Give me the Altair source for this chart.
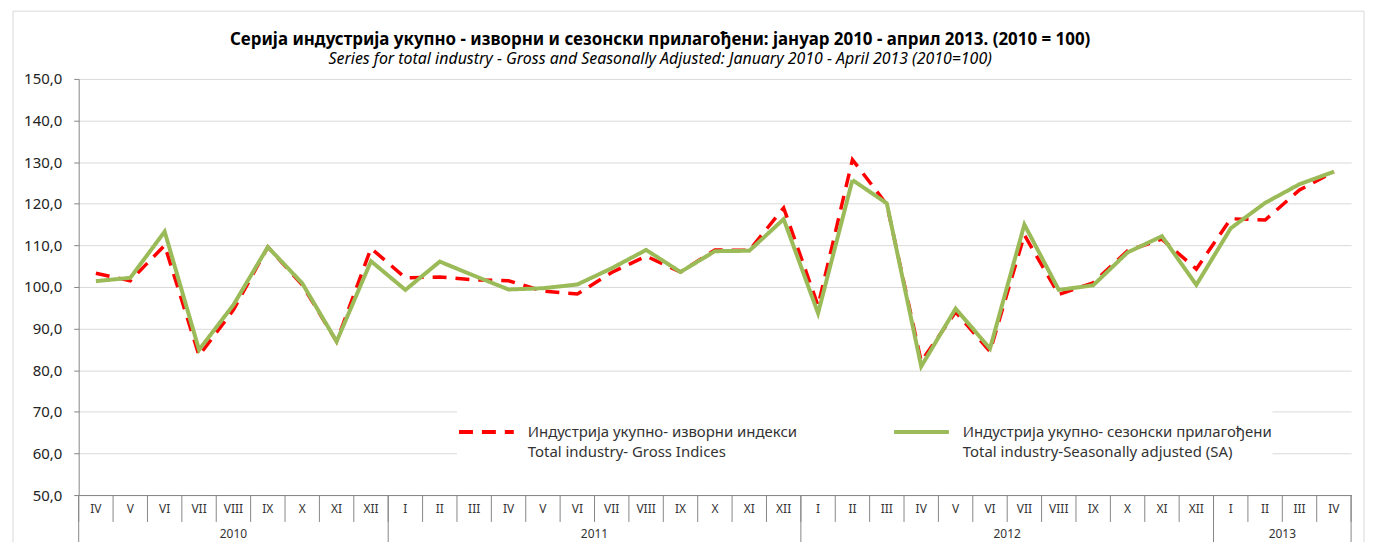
import altair as alt
import pandas as pd

months = ["IV", "V", "VI", "VII", "VIII", "IX", "X", "XI", "XII",
          "I", "II", "III", "IV", "V", "VI", "VII", "VIII", "IX", "X", "XI", "XII",
          "I", "II", "III", "IV", "V", "VI", "VII", "VIII", "IX", "X", "XI", "XII",
          "I", "II", "III", "IV"]
years = ["2010"] * 9 + ["2011"] * 12 + ["2012"] * 12 + ["2013"] * 4

gross = [103.3, 101.5, 110.0, 83.5, 94.5, 109.6, 100.5, 86.9, 109.3,
         102.2, 102.4, 101.7, 101.5, 99.0, 98.3, 103.5, 107.4, 103.6, 108.9, 108.8, 119.0,
         95.5, 130.6, 119.8, 82.1, 94.0, 84.5, 112.5, 98.2, 101.0, 108.7, 111.5, 104.3,
         116.4, 116.1, 123.3, 127.7]
sa = [101.4, 102.2, 113.3, 84.9, 95.7, 109.6, 100.9, 86.9, 106.2,
      99.3, 106.1, 102.7, 99.4, 99.7, 100.6, 104.5, 108.9, 103.6, 108.6, 108.7, 116.3,
      93.7, 125.7, 120.1, 80.9, 94.8, 85.2, 115.0, 99.3, 100.4, 108.3, 112.2, 100.5,
      114.1, 120.2, 124.7, 127.7]

series_names = ["Индустрија укупно- изворни индекси|Total industry- Gross Indices",
                "Индустрија укупно- сезонски прилагођени|Total industry-Seasonally adjusted (SA)"]
series_colors = ["#ff0000", "#9bbb59"]

title_sr = "Серија индустрија укупно - изворни и сезонски прилагођени: јануар 2010 - април 2013. (2010 = 100)"
title_en = "Series for total industry - Gross and Seasonally Adjusted: January 2010 - April 2013 (2010=100)"

W, H = 1278, 418
FONT = "Noto Sans"

n = len(months)
rows = []
for i in range(n):
    rows.append({"idx": i, "value": gross[i], "series": series_names[0]})
    rows.append({"idx": i, "value": sa[i], "series": series_names[1]})
df = pd.DataFrame(rows)

cat = pd.DataFrame({"idx": list(range(n)), "month": months, "year": years})

# separators between month cells and between year groups
bounds = [i - 0.5 for i in range(n)] + [n - 0.5]
is_year = [True] + [years[i] != years[i - 1] for i in range(1, n)] + [True]
sep = pd.DataFrame({"b": bounds, "kind": ["year" if y else "month" for y in is_year]})

xscale = alt.Scale(domain=[-0.5, n - 0.5], nice=False, zero=False)
color_scale = alt.Scale(domain=series_names, range=series_colors)
dash_scale = alt.Scale(domain=series_names, range=[[14, 9], [1, 0]])

legend = alt.Legend(
    title=None, orient="none", legendX=380, legendY=325, direction="horizontal",
    columns=2, symbolType="stroke", symbolSize=3025, symbolStrokeWidth=4,
    labelExpr="split(datum.label, '|')", labelFontSize=15, labelFont=FONT,
    labelColor="#333333", labelLimit=700, labelOffset=12, columnPadding=89,
    fillColor="white", padding=0,
)

base = alt.Chart(df).encode(
    x=alt.X("idx:Q", scale=xscale,
            axis=alt.Axis(labels=False, ticks=False, grid=False, domainColor="#868686", title=None)),
    y=alt.Y("value:Q", scale=alt.Scale(domain=[50, 150], nice=False),
            axis=alt.Axis(values=list(range(50, 151, 10)),
                          labelExpr="replace(format(datum.value, '.1f'), '.', ',')",
                          tickSize=5, tickColor="#868686", domainColor="#868686",
                          gridColor="#d9d9d9", labelFontSize=15, labelFont=FONT,
                          labelColor="#222222", labelPadding=12, title=None)),
    color=alt.Color("series:N", scale=color_scale, legend=legend),
    strokeDash=alt.StrokeDash("series:N", scale=dash_scale, legend=legend),
)

red = base.transform_filter(alt.datum.series == series_names[0]).mark_line(strokeWidth=3.5)
green = base.transform_filter(alt.datum.series == series_names[1]).mark_line(strokeWidth=4)

month_text = alt.Chart(cat).mark_text(fontSize=12, font=FONT, color="#333333").encode(
    x=alt.X("idx:Q", scale=xscale), y=alt.value(H + 14), text="month:N")

year_text = alt.Chart(cat).transform_aggregate(
    center="mean(idx)", groupby=["year"]
).mark_text(fontSize=12, font=FONT, color="#333333").encode(
    x=alt.X("center:Q", scale=xscale), y=alt.value(H + 39), text="year:N")

month_sep = alt.Chart(sep).mark_rule(color="#868686", strokeWidth=1).encode(
    x=alt.X("b:Q", scale=xscale), y=alt.value(H), y2=alt.value(H + 27))

year_sep = alt.Chart(sep).transform_filter(alt.datum.kind == "year").mark_rule(
    color="#868686", strokeWidth=1).encode(
    x=alt.X("b:Q", scale=xscale), y=alt.value(H), y2=alt.value(H + 60))

# faint outer chart-area frame
frame = alt.Chart(cat).transform_aggregate(c="count()").mark_rect(
    fill=None, stroke="#d9d9d9", strokeWidth=1).encode(
    x=alt.value(-66), x2=alt.value(W + 13), y=alt.value(-68), y2=alt.value(H + 80))

chart = alt.layer(frame, red, green, month_sep, year_sep, month_text, year_text).properties(
    width=W, height=H,
    title=alt.TitleParams(
        text=title_sr, subtitle=title_en, anchor="middle", dx=-55, offset=-58,
        font=FONT, fontSize=17, fontWeight="bold", color="#000000",
        subtitleFont=FONT, subtitleFontSize=16, subtitleFontStyle="italic",
        subtitleColor="#000000", subtitlePadding=3,
    ),
    autosize=alt.AutoSizeParams(type="none"),
    padding={"left": 71, "top": 70, "right": 20, "bottom": 60},
).resolve_scale(
    color="shared", strokeDash="shared"
).configure(
    view=alt.ViewConfig(stroke=None),
    axis=alt.AxisConfig(domainWidth=1),
    style={"guide-label": {"lineHeight": 20}},
)

chart.save("out.html", embed_options={"renderer": "svg", "actions": False})
